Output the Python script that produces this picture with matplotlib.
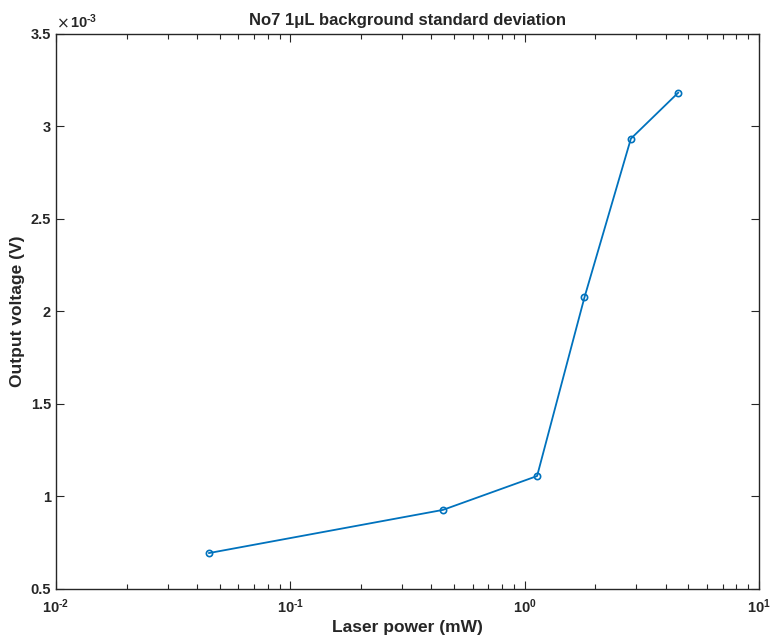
import matplotlib
matplotlib.use("Agg")
import matplotlib.pyplot as plt
from matplotlib.ticker import FuncFormatter, FixedLocator, LogLocator, NullFormatter

plt.rcParams['font.family'] = ['Liberation Sans', 'DejaVu Sans']
plt.rcParams['mathtext.fontset'] = 'custom'
plt.rcParams['mathtext.rm'] = 'Liberation Sans:bold'
plt.rcParams['mathtext.bf'] = 'Liberation Sans:bold'

# Laser power (mW) and background standard deviation (V)
laser_power = [0.045, 0.448, 1.13, 1.80, 2.84, 4.52]
output_std = [0.694e-3, 0.927e-3, 1.110e-3, 2.075e-3, 2.932e-3, 3.180e-3]

y_ticks = [0.5e-3, 1.0e-3, 1.5e-3, 2.0e-3, 2.5e-3, 3.0e-3, 3.5e-3]
x_ticks = [1e-2, 1e-1, 1e0, 1e1]
x_tick_labels = [r'$\mathbf{10^{\text{-}2}}$', r'$\mathbf{10^{\text{-}1}}$',
                 r'$\mathbf{10^{0}}$', r'$\mathbf{10^{1}}$']

fig = plt.figure(figsize=(7.7, 6.37), dpi=100)
ax = fig.add_axes([0.0727, 0.0754, 0.9130, 0.8720])

ax.plot(laser_power, output_std, color='#0072BD', linewidth=1.3,
        marker='o', markersize=4.5, markerfacecolor='none', markeredgewidth=1.2)

ax.set_xscale('log')
ax.set_xlim(1e-2, 1e1)
ax.set_ylim(0.5e-3, 3.5e-3)

ax.xaxis.set_major_locator(FixedLocator(x_ticks))
ax.set_xticklabels(x_tick_labels)
ax.xaxis.set_minor_locator(LogLocator(base=10, subs=range(2, 10)))
ax.xaxis.set_minor_formatter(NullFormatter())

ax.yaxis.set_major_locator(FixedLocator(y_ticks))
ax.yaxis.set_major_formatter(FuncFormatter(lambda v, p: f'{v * 1e3:g}'))

for lab in ax.get_yticklabels():
    lab.set_fontweight('bold')

ax.tick_params(which='both', direction='in', top=True, right=True,
               colors='#262626', labelsize=10.5, width=0.8)
ax.tick_params(which='major', length=6)
ax.tick_params(which='minor', length=3.5)
ax.tick_params(axis='x', which='major', pad=6)

for s in ax.spines.values():
    s.set_color('#262626')
    s.set_linewidth(1.0)

# exponent marker for the y axis
ax.text(0.001, 1.003, '×', transform=ax.transAxes, family='DejaVu Sans',
        fontsize=11, color='#262626', ha='left', va='bottom')
ax.text(0.020, 1.004, r'$\mathbf{10^{\text{-}3}}$', transform=ax.transAxes,
        fontsize=10.5, color='#262626', ha='left', va='bottom')

ax.set_title('No7 1μL background standard deviation', fontsize=12,
             fontweight='bold', color='#262626', pad=6)
ax.set_xlabel('Laser power (mW)', fontsize=12.5, fontweight='bold', color='#262626')
ax.xaxis.set_label_coords(0.5, -0.056)
ax.set_ylabel('Output voltage (V)', fontsize=12.5, fontweight='bold', color='#262626', labelpad=4)

fig.savefig('out.png', dpi=100, facecolor='white')
